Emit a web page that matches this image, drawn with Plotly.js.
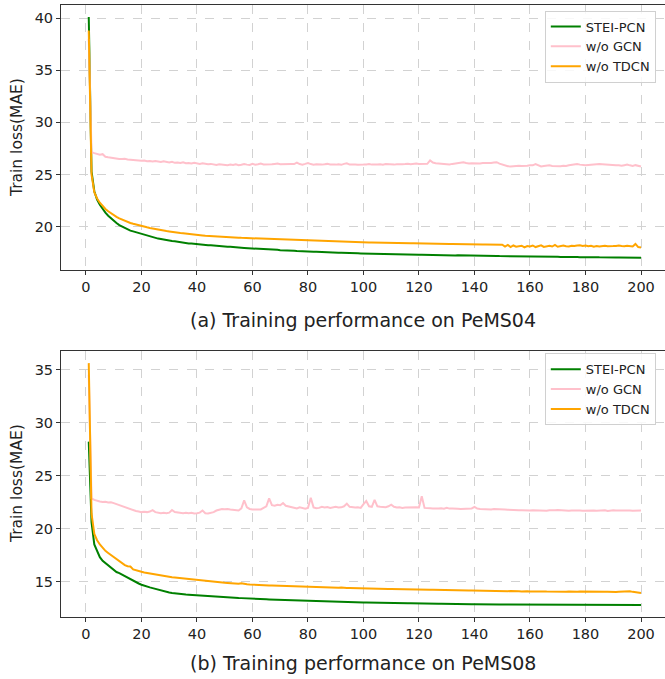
<!DOCTYPE html>
<html>
<head>
<meta charset="utf-8">
<script src="https://cdn.plot.ly/plotly-3.0.1.min.js"></script>
<style>html,body{margin:0;padding:0;background:#fff;}#chart{width:665px;height:679px;}</style>
</head>
<body>
<div id="chart"></div>
<script>
// Epoch index (x categories)
const epochs = Array.from({length: 200}, (_, i) => i + 1);
const seriesNames = ["STEI-PCN", "w/o GCN", "w/o TDCN"];
const captions = ["(a) Training performance on PeMS04", "(b) Training performance on PeMS08"];
const yTitle = "Train loss(MAE)";
const xTicks = [0, 20, 40, 60, 80, 100, 120, 140, 160, 180, 200];

// ---- PeMS04 ----
const stei04 = [
40.1, 25.3, 23.4, 22.6, 22.1, 21.7, 21.35, 21.05, 20.8, 20.55,
20.35, 20.15, 20.0, 19.85, 19.72, 19.62, 19.55, 19.47, 19.38, 19.28,
19.22, 19.15, 19.08, 18.98, 18.94, 18.86, 18.82, 18.76, 18.72, 18.66,
18.62, 18.6, 18.55, 18.52, 18.47, 18.45, 18.4, 18.4, 18.36, 18.32,
18.3, 18.29, 18.26, 18.22, 18.21, 18.18, 18.16, 18.14, 18.11, 18.1,
18.07, 18.07, 18.03, 18.02, 18.0, 17.98, 17.96, 17.95, 17.93, 17.9,
17.9, 17.87, 17.87, 17.84, 17.84, 17.81, 17.81, 17.78, 17.78, 17.75,
17.75, 17.73, 17.72, 17.7, 17.7, 17.67, 17.67, 17.65, 17.64, 17.61,
17.62, 17.6, 17.59, 17.57, 17.57, 17.55, 17.55, 17.53, 17.53, 17.51,
17.5, 17.5, 17.48, 17.48, 17.47, 17.46, 17.46, 17.45, 17.44, 17.43,
17.43, 17.42, 17.41, 17.41, 17.39, 17.4, 17.38, 17.38, 17.37, 17.36,
17.37, 17.35, 17.35, 17.34, 17.33, 17.34, 17.32, 17.32, 17.31, 17.3,
17.31, 17.3, 17.29, 17.3, 17.28, 17.28, 17.29, 17.27, 17.27, 17.26,
17.27, 17.26, 17.25, 17.26, 17.26, 17.24, 17.25, 17.23, 17.24, 17.22,
17.22, 17.22, 17.21, 17.2, 17.21, 17.2, 17.19, 17.2, 17.18, 17.18,
17.18, 17.17, 17.18, 17.16, 17.16, 17.17, 17.15, 17.15, 17.16, 17.14,
17.14, 17.13, 17.14, 17.13, 17.12, 17.13, 17.12, 17.11, 17.12, 17.11,
17.1, 17.11, 17.1, 17.1, 17.09, 17.1, 17.09, 17.08, 17.09, 17.08,
17.07, 17.08, 17.07, 17.07, 17.06, 17.07, 17.06, 17.06, 17.05, 17.06,
17.05, 17.05, 17.04, 17.05, 17.04, 17.04, 17.03, 17.04, 17.03, 17.03
];
const gcn04 = [
38.0, 27.15, 27.05, 27.0, 26.9, 26.95, 26.7, 26.65, 26.6, 26.58,
26.55, 26.5, 26.48, 26.52, 26.45, 26.42, 26.4, 26.38, 26.35, 26.33,
26.35, 26.28, 26.3, 26.25, 26.3, 26.22, 26.2, 26.28, 26.2, 26.15,
26.22, 26.12, 26.15, 26.1, 26.18, 26.08, 26.1, 26.05, 26.12, 26.05,
26.02, 26.08, 26.0, 25.98, 26.02, 25.95, 25.92, 25.98, 25.95, 25.92,
25.9, 25.95, 25.92, 25.98, 25.9, 25.93, 26.0, 25.95, 25.92, 26.02,
25.95, 25.98, 26.05, 25.97, 25.95, 26.0, 25.98, 26.02, 26.05, 25.98,
26.0, 25.95, 25.98, 26.02, 26.0, 26.15, 26.0, 25.95, 26.02, 26.1,
26.0, 25.95, 25.98, 25.93, 25.95, 25.98, 26.02, 25.96, 25.92, 25.95,
25.98, 25.93, 26.02, 26.08, 25.95, 25.92, 25.96, 25.94, 25.98, 25.95,
25.97, 26.0, 25.95, 25.92, 25.96, 25.98, 25.94, 26.0, 25.97, 25.93,
25.95, 25.99, 26.02, 25.98, 26.0, 26.03, 25.98, 26.02, 26.05, 26.02,
26.0, 26.05, 26.03, 26.35, 26.15, 26.08, 26.05, 26.0, 26.03, 26.0,
25.97, 26.02, 26.05, 26.1, 26.15, 26.17, 26.1, 26.05, 26.08, 26.05,
26.07, 26.05, 26.1, 26.08, 26.12, 26.1, 26.15, 26.18, 26.05, 25.95,
25.85, 25.8, 25.78, 25.82, 25.8, 25.85, 25.82, 25.8, 25.85, 25.9,
25.88, 26.0, 25.85, 25.78, 25.82, 25.85, 25.88, 25.82, 25.8, 25.78,
25.8, 25.85, 25.82, 25.88, 25.92, 25.95, 26.0, 25.95, 25.9, 25.88,
25.92, 25.95, 25.98, 25.95, 26.0, 25.98, 25.95, 25.92, 25.9, 25.88,
25.9, 25.88, 25.85, 25.9, 25.95, 25.88, 25.82, 25.9, 25.85, 25.78
];
const tdcn04 = [
38.8, 25.0, 23.3, 22.7, 22.3, 21.95, 21.7, 21.48, 21.28, 21.1,
20.95, 20.8, 20.68, 20.56, 20.45, 20.36, 20.28, 20.2, 20.13, 20.06,
20.0, 19.94, 19.88, 19.82, 19.78, 19.72, 19.68, 19.63, 19.58, 19.55,
19.5, 19.47, 19.43, 19.4, 19.37, 19.33, 19.3, 19.27, 19.24, 19.2,
19.18, 19.16, 19.13, 19.12, 19.1, 19.08, 19.06, 19.05, 19.03, 19.02,
19.0, 18.98, 18.97, 18.96, 18.95, 18.93, 18.92, 18.9, 18.89, 18.87,
18.86, 18.85, 18.84, 18.83, 18.82, 18.81, 18.8, 18.79, 18.78, 18.77,
18.76, 18.75, 18.74, 18.73, 18.72, 18.71, 18.7, 18.69, 18.68, 18.66,
18.66, 18.65, 18.64, 18.63, 18.62, 18.62, 18.61, 18.6, 18.59, 18.58,
18.58, 18.57, 18.56, 18.55, 18.55, 18.54, 18.53, 18.53, 18.52, 18.5,
18.5, 18.49, 18.49, 18.48, 18.47, 18.47, 18.46, 18.46, 18.45, 18.45,
18.44, 18.44, 18.43, 18.43, 18.42, 18.42, 18.41, 18.41, 18.4, 18.4,
18.39, 18.39, 18.38, 18.38, 18.38, 18.37, 18.37, 18.36, 18.36, 18.35,
18.35, 18.35, 18.34, 18.34, 18.33, 18.33, 18.33, 18.32, 18.32, 18.31,
18.31, 18.31, 18.3, 18.3, 18.3, 18.29, 18.29, 18.28, 18.28, 18.27,
18.1, 18.25, 18.05, 18.2, 18.08, 18.1, 18.18, 18.02, 18.15, 18.1,
18.2, 18.05, 18.15, 18.22, 18.06, 18.12, 18.18, 18.1, 18.25, 18.08,
18.15, 18.2, 18.12, 18.1, 18.18, 18.14, 18.2, 18.22, 18.16, 18.2,
18.12, 18.18, 18.08, 18.15, 18.1, 18.13, 18.17, 18.12, 18.1, 18.14,
18.16, 18.2, 18.15, 18.12, 18.18, 18.14, 18.1, 18.35, 18.05, 18.0
];

// ---- PeMS08 ----
const stei08 = [
28.2, 20.6, 18.5, 17.8, 17.3, 16.95, 16.75, 16.5, 16.3, 16.1,
15.9, 15.8, 15.65, 15.5, 15.38, 15.25, 15.1, 14.95, 14.82, 14.7,
14.6, 14.52, 14.45, 14.38, 14.3, 14.22, 14.15, 14.1, 14.02, 13.97,
13.92, 13.88, 13.85, 13.82, 13.8, 13.78, 13.76, 13.74, 13.72, 13.7,
13.68, 13.66, 13.64, 13.62, 13.6, 13.58, 13.57, 13.56, 13.54, 13.52,
13.5, 13.49, 13.48, 13.46, 13.45, 13.44, 13.42, 13.41, 13.4, 13.38,
13.37, 13.36, 13.35, 13.34, 13.33, 13.32, 13.31, 13.3, 13.29, 13.28,
13.27, 13.26, 13.25, 13.24, 13.23, 13.22, 13.21, 13.2, 13.19, 13.18,
13.17, 13.16, 13.15, 13.14, 13.13, 13.12, 13.12, 13.13, 13.1, 13.1,
13.09, 13.08, 13.08, 13.07, 13.06, 13.06, 13.05, 13.05, 13.04, 13.03,
13.03, 13.02, 13.02, 13.01, 13.0, 13.0, 12.99, 12.99, 12.98, 12.98,
12.97, 12.97, 12.96, 12.96, 12.95, 12.95, 12.95, 12.94, 12.94, 12.93,
12.93, 12.93, 12.92, 12.92, 12.92, 12.91, 12.91, 12.91, 12.9, 12.9,
12.9, 12.89, 12.89, 12.89, 12.88, 12.88, 12.88, 12.87, 12.87, 12.87,
12.86, 12.86, 12.86, 12.85, 12.85, 12.85, 12.85, 12.84, 12.84, 12.84,
12.84, 12.84, 12.83, 12.83, 12.83, 12.83, 12.85, 12.83, 12.82, 12.82,
12.82, 12.82, 12.84, 12.82, 12.82, 12.81, 12.81, 12.81, 12.81, 12.81,
12.81, 12.8, 12.82, 12.8, 12.8, 12.8, 12.8, 12.8, 12.81, 12.8,
12.8, 12.79, 12.79, 12.8, 12.79, 12.79, 12.79, 12.81, 12.79, 12.79,
12.79, 12.78, 12.79, 12.78, 12.78, 12.79, 12.78, 12.78, 12.79, 12.8
];
const gcn08 = [
34.5, 22.85, 22.7, 22.6, 22.55, 22.5, 22.52, 22.45, 22.48, 22.4,
22.3, 22.2, 22.1, 22.0, 21.9, 21.8, 21.75, 21.65, 21.6, 21.55,
21.58, 21.55, 21.6, 21.73, 21.55, 21.5, 21.45, 21.48, 21.45, 21.5,
21.75, 21.55, 21.5, 21.48, 21.45, 21.5, 21.45, 21.48, 21.42, 21.45,
21.5, 21.7, 21.45, 21.42, 21.45, 21.55, 21.7, 21.8, 21.85, 21.82,
21.85, 21.8, 21.75, 21.72, 21.7, 21.9, 22.65, 22.0, 21.85, 21.8,
21.82, 21.85, 21.8, 21.95, 22.1, 22.85, 22.2, 22.15, 22.25, 22.2,
22.4, 22.15, 22.1, 22.0, 21.95, 21.9, 22.0, 21.92, 21.88, 21.95,
22.9, 22.0, 21.92, 21.95, 22.05, 21.98, 22.02, 21.95, 22.0, 22.05,
21.98, 22.0, 22.1, 22.35, 22.05, 22.0, 21.98, 22.0, 21.95, 22.3,
22.6, 22.1, 22.05, 22.7, 22.1, 22.05, 22.0, 22.02, 22.1, 22.25,
22.05, 21.98, 22.0, 21.95, 21.98, 22.0, 21.95, 21.97, 22.0, 21.98,
23.05, 21.95, 21.9, 21.92, 21.9, 21.88, 21.9, 21.92, 21.88, 21.95,
21.88, 21.9, 21.92, 21.87, 21.85, 21.88, 21.85, 21.87, 21.9, 22.05,
21.88, 21.85, 21.82, 21.85, 21.83, 21.8, 21.85, 21.82, 21.8, 21.78,
21.8, 21.78, 21.75, 21.77, 21.75, 21.72, 21.73, 21.7, 21.72, 21.7,
21.72, 21.7, 21.74, 21.72, 21.7, 21.68, 21.72, 21.7, 21.73, 21.75,
21.72, 21.7, 21.71, 21.68, 21.7, 21.72, 21.7, 21.71, 21.69, 21.7,
21.72, 21.74, 21.7, 21.68, 21.7, 21.72, 21.73, 21.65, 21.7, 21.72,
21.7, 21.73, 21.71, 21.7, 21.72, 21.7, 21.68, 21.7, 21.72, 21.7
];
const tdcn08 = [
35.6, 21.4, 19.5, 18.9, 18.5, 18.15, 17.9, 17.7, 17.5, 17.38,
17.1, 16.9, 16.7, 16.55, 16.45, 16.42, 16.15, 16.05, 16.0, 15.92,
15.85, 15.8, 15.75, 15.72, 15.65, 15.6, 15.55, 15.5, 15.48, 15.43,
15.4, 15.38, 15.35, 15.3, 15.3, 15.25, 15.22, 15.2, 15.17, 15.12,
15.1, 15.08, 15.05, 15.02, 15.0, 14.98, 14.95, 14.93, 14.9, 14.88,
14.86, 14.84, 14.82, 14.8, 14.8, 14.85, 14.76, 14.74, 14.72, 14.7,
14.69, 14.68, 14.67, 14.66, 14.65, 14.64, 14.63, 14.62, 14.6, 14.59,
14.58, 14.57, 14.56, 14.55, 14.54, 14.53, 14.52, 14.51, 14.5, 14.49,
14.48, 14.47, 14.46, 14.46, 14.45, 14.44, 14.44, 14.43, 14.42, 14.42,
14.41, 14.45, 14.4, 14.39, 14.39, 14.38, 14.38, 14.37, 14.37, 14.36,
14.35, 14.35, 14.34, 14.34, 14.33, 14.33, 14.32, 14.32, 14.31, 14.31,
14.3, 14.3, 14.29, 14.29, 14.28, 14.28, 14.27, 14.27, 14.26, 14.25,
14.25, 14.24, 14.24, 14.23, 14.23, 14.22, 14.22, 14.21, 14.21, 14.2,
14.2, 14.19, 14.19, 14.18, 14.18, 14.17, 14.17, 14.16, 14.16, 14.15,
14.15, 14.14, 14.14, 14.13, 14.13, 14.12, 14.12, 14.11, 14.11, 14.1,
14.1, 14.09, 14.11, 14.08, 14.09, 14.08, 14.07, 14.1, 14.08, 14.07,
14.08, 14.06, 14.07, 14.05, 14.07, 14.06, 14.05, 14.08, 14.06, 14.05,
14.06, 14.04, 14.05, 14.07, 14.04, 14.05, 14.03, 14.06, 14.05, 14.04,
14.03, 14.05, 14.03, 14.02, 14.04, 14.02, 14.03, 14.05, 14.02, 14.03,
14.01, 14.03, 14.05, 14.0, 14.02, 14.08, 14.03, 14.0, 13.96, 13.93
];

const colors = ["#008000", "#ffc0cb", "#ffa500"];
const FONT = "DejaVu Sans, Liberation Sans, sans-serif";

function mk(y, i, xa, ya, leg) {
  return {x: epochs, y: y, type: "scatter", mode: "lines", name: seriesNames[i],
          xaxis: xa, yaxis: ya, legend: leg,
          line: {color: colors[i], width: 2}, hoverinfo: "skip"};
}
const traces = [
  mk(stei04, 0, "x", "y", "legend"), mk(gcn04, 1, "x", "y", "legend"), mk(tdcn04, 2, "x", "y", "legend"),
  mk(stei08, 0, "x2", "y2", "legend2"), mk(gcn08, 1, "x2", "y2", "legend2"), mk(tdcn08, 2, "x2", "y2", "legend2")
];

const axCommon = {
  showgrid: true, gridcolor: "#d2d2d2", griddash: "dash", gridwidth: 1,
  showline: true, mirror: true, linecolor: "#333", linewidth: 1,
  ticks: "outside", ticklen: 4, tickwidth: 1, tickcolor: "#333",
  zeroline: false, tickfont: {family: FONT, size: 14.5, color: "#222"}
};
const xCommon = Object.assign({}, axCommon, {range: [-9.0, 208.65], tickvals: xTicks, ticktext: xTicks.map(String)});

const legCommon = {
  bgcolor: "rgba(255,255,255,0.85)", bordercolor: "#d0d0d0", borderwidth: 1,
  font: {family: FONT, size: 13, color: "#222"}, xanchor: "left", yanchor: "top", itemwidth: 30,
  tracegroupgap: 0
};

const layout = {
  width: 665, height: 679,
  margin: {l: 61, r: 0, t: 5, b: 62, pad: 0},
  paper_bgcolor: "#fff", plot_bgcolor: "#fff",
  showlegend: true,
  xaxis: Object.assign({}, xCommon, {anchor: "y", domain: [0, 1]}),
  yaxis: Object.assign({}, axCommon, {anchor: "x", domain: [0.567, 1], range: [15.85, 41.25], tickvals: [20, 25, 30, 35, 40]}),
  xaxis2: Object.assign({}, xCommon, {anchor: "y2", domain: [0, 1]}),
  yaxis2: Object.assign({}, axCommon, {anchor: "x2", domain: [0, 0.4346], range: [11.66, 36.74], tickvals: [15, 20, 25, 30, 35]}),
  legend: Object.assign({}, legCommon, {x: 0.801, y: 0.991}),
  legend2: Object.assign({}, legCommon, {x: 0.801, y: 0.431}),
  annotations: [
    {text: captions[0], xref: "paper", yref: "paper", x: 0.5, y: 0.4853, xanchor: "center", yanchor: "middle", showarrow: false, font: {family: FONT, size: 19, color: "#222"}},
    {text: captions[1], xref: "paper", yref: "paper", x: 0.5, y: -0.0752, xanchor: "center", yanchor: "middle", showarrow: false, font: {family: FONT, size: 19, color: "#222"}},
    {text: yTitle, xref: "paper", yref: "paper", x: -0.0728, y: 0.7827, xanchor: "center", yanchor: "middle", textangle: -90, showarrow: false, font: {family: FONT, size: 15.5, color: "#222"}},
    {text: yTitle, xref: "paper", yref: "paper", x: -0.0728, y: 0.2173, xanchor: "center", yanchor: "middle", textangle: -90, showarrow: false, font: {family: FONT, size: 15.5, color: "#222"}}
  ]
};

Plotly.newPlot("chart", traces, layout, {staticPlot: true, displayModeBar: false});
</script>
</body>
</html>
